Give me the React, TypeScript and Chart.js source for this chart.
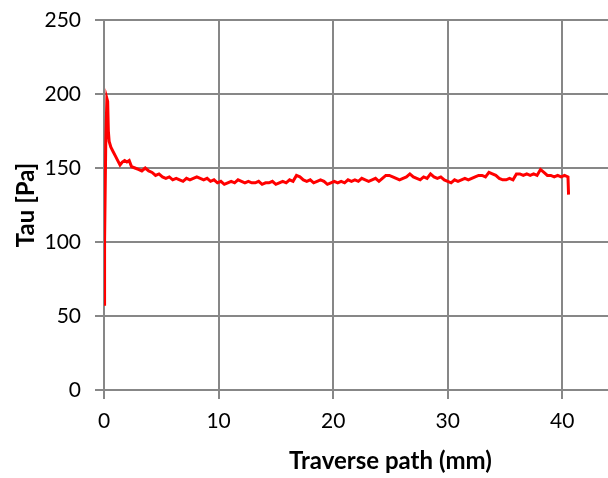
import React, { useEffect, useRef } from "react";
import { Chart, registerables } from "chart.js";

Chart.register(...registerables);

const pathMm: number[] = [
  0, 0.05, 0.15, 0.25, 0.32, 0.38, 0.45, 0.6, 0.8, 1.0, 1.2, 1.4, 1.6, 1.8, 2.0, 2.2, 2.4, 2.7, 3.0, 3.3, 3.6, 3.9,
  4.2, 4.5, 4.8, 5.1, 5.4, 5.7, 6.0, 6.3, 6.6, 6.9, 7.2, 7.5, 7.8, 8.1, 8.4, 8.7, 9.0, 9.3, 9.6, 9.9,
  10.2, 10.5, 10.8, 11.1, 11.4, 11.7, 12.0, 12.3, 12.6, 12.9, 13.2, 13.5, 13.8, 14.1, 14.4, 14.7, 15.0, 15.3,
  15.6, 15.9, 16.2, 16.5, 16.8, 17.1, 17.4, 17.7, 18.0, 18.3, 18.6, 18.9, 19.2, 19.5, 19.8, 20.1, 20.4, 20.7,
  21.0, 21.3, 21.6, 21.9, 22.2, 22.5, 22.8, 23.1, 23.4, 23.7, 24.0, 24.3, 24.6, 24.9, 25.2, 25.5, 25.8, 26.1,
  26.4, 26.7, 27.0, 27.3, 27.6, 27.9, 28.2, 28.5, 28.8, 29.1, 29.4, 29.7, 30.0, 30.3, 30.6, 30.9, 31.2, 31.5,
  31.8, 32.1, 32.4, 32.7, 33.0, 33.3, 33.6, 33.9, 34.2, 34.5, 34.8, 35.1, 35.4, 35.7, 36.0, 36.3, 36.6, 36.9,
  37.2, 37.5, 37.8, 38.1, 38.4, 38.7, 39.0, 39.3, 39.6, 39.9, 40.2, 40.5, 40.55,
];

const tauPa: number[] = [
  58, 100, 165, 197, 195, 175, 168, 164, 161, 158, 155, 152, 154, 155, 154, 155, 151, 150, 149, 148, 150, 148,
  147, 145, 146, 144, 143, 144, 142, 143, 142, 141, 143, 142, 143, 144, 143, 142, 143, 141, 142, 140,
  141, 139, 140, 141, 140, 142, 141, 140, 141, 140, 140, 141, 139, 140, 140, 141, 139, 140,
  141, 140, 142, 141, 145, 144, 142, 141, 142, 140, 141, 142, 141, 139, 140, 141, 140, 141,
  140, 142, 141, 142, 141, 143, 142, 141, 142, 143, 141, 143, 145, 145, 144, 143, 142, 143,
  144, 146, 144, 143, 142, 144, 143, 146, 144, 143, 144, 142, 141, 140, 142, 141, 142, 143,
  142, 143, 144, 145, 145, 144, 147, 146, 145, 143, 142, 142, 143, 142, 146, 146, 145, 146,
  145, 146, 145, 149, 147, 145, 145, 144, 145, 144, 145, 144, 132,
];

const xTickValues: number[] = [0, 10, 20, 30, 40, 50];
const yTickValues: number[] = [0, 50, 100, 150, 200, 250];

const FONT = "Lato, 'Open Sans', sans-serif";
const GRID = "#878787";

export default function App() {
  const ref = useRef<HTMLCanvasElement | null>(null);

  useEffect(() => {
    if (!ref.current) return;
    const chart = new Chart(ref.current, {
      type: "line",
      data: {
        datasets: [
          {
            label: "Tau",
            data: pathMm.map((x, i) => ({ x, y: tauPa[i] })),
            borderColor: "#ff0000",
            backgroundColor: "#ff0000",
            borderWidth: 3,
            pointRadius: 0,
            tension: 0,
          },
        ],
      },
      options: {
        responsive: false,
        animation: false,
        layout: { padding: { top: 20, left: 12, right: 0, bottom: 2 } },
        plugins: { legend: { display: false }, tooltip: { enabled: false } },
        scales: {
          x: {
            type: "linear",
            min: 0,
            max: 50,
            afterBuildTicks: (s: any) => {
              s.ticks = xTickValues.map((v) => ({ value: v }));
            },
            afterFit: (s: any) => {
              s.height = 86;
            },
            grid: { color: GRID, lineWidth: 2, tickLength: 9, drawTicks: true },
            border: { color: GRID, width: 2 },
            ticks: { color: "#000", font: { family: FONT, size: 21 }, padding: 10, maxRotation: 0 },
            title: {
              display: true,
              text: "Traverse path (mm)",
              color: "#000",
              font: { family: FONT, size: 24, weight: "bold" },
              padding: { top: 12, bottom: 0 },
            },
          },
          y: {
            type: "linear",
            min: 0,
            max: 250,
            afterBuildTicks: (s: any) => {
              s.ticks = yTickValues.map((v) => ({ value: v }));
            },
            afterFit: (s: any) => {
              s.width = 92;
              s.paddingTop = 0;
              s.paddingBottom = 0;
            },
            grid: { color: GRID, lineWidth: 2, tickLength: 9, drawTicks: true },
            border: { color: GRID, width: 2 },
            ticks: { color: "#000", font: { family: FONT, size: 21 }, padding: 14 },
            title: {
              display: true,
              text: "Tau [Pa]",
              color: "#000",
              font: { family: FONT, size: 24, weight: "bold" },
              padding: { top: 0, bottom: 4 },
            },
          },
        },
      },
    });
    return () => chart.destroy();
  }, []);

  return (
    <div
      style={{
        position: "fixed",
        left: 0,
        top: 0,
        width: 608,
        height: 478,
        overflow: "hidden",
        background: "#fff",
      }}
    >
      <canvas ref={ref} width={699} height={478} style={{ display: "block" }} />
    </div>
  );
}
